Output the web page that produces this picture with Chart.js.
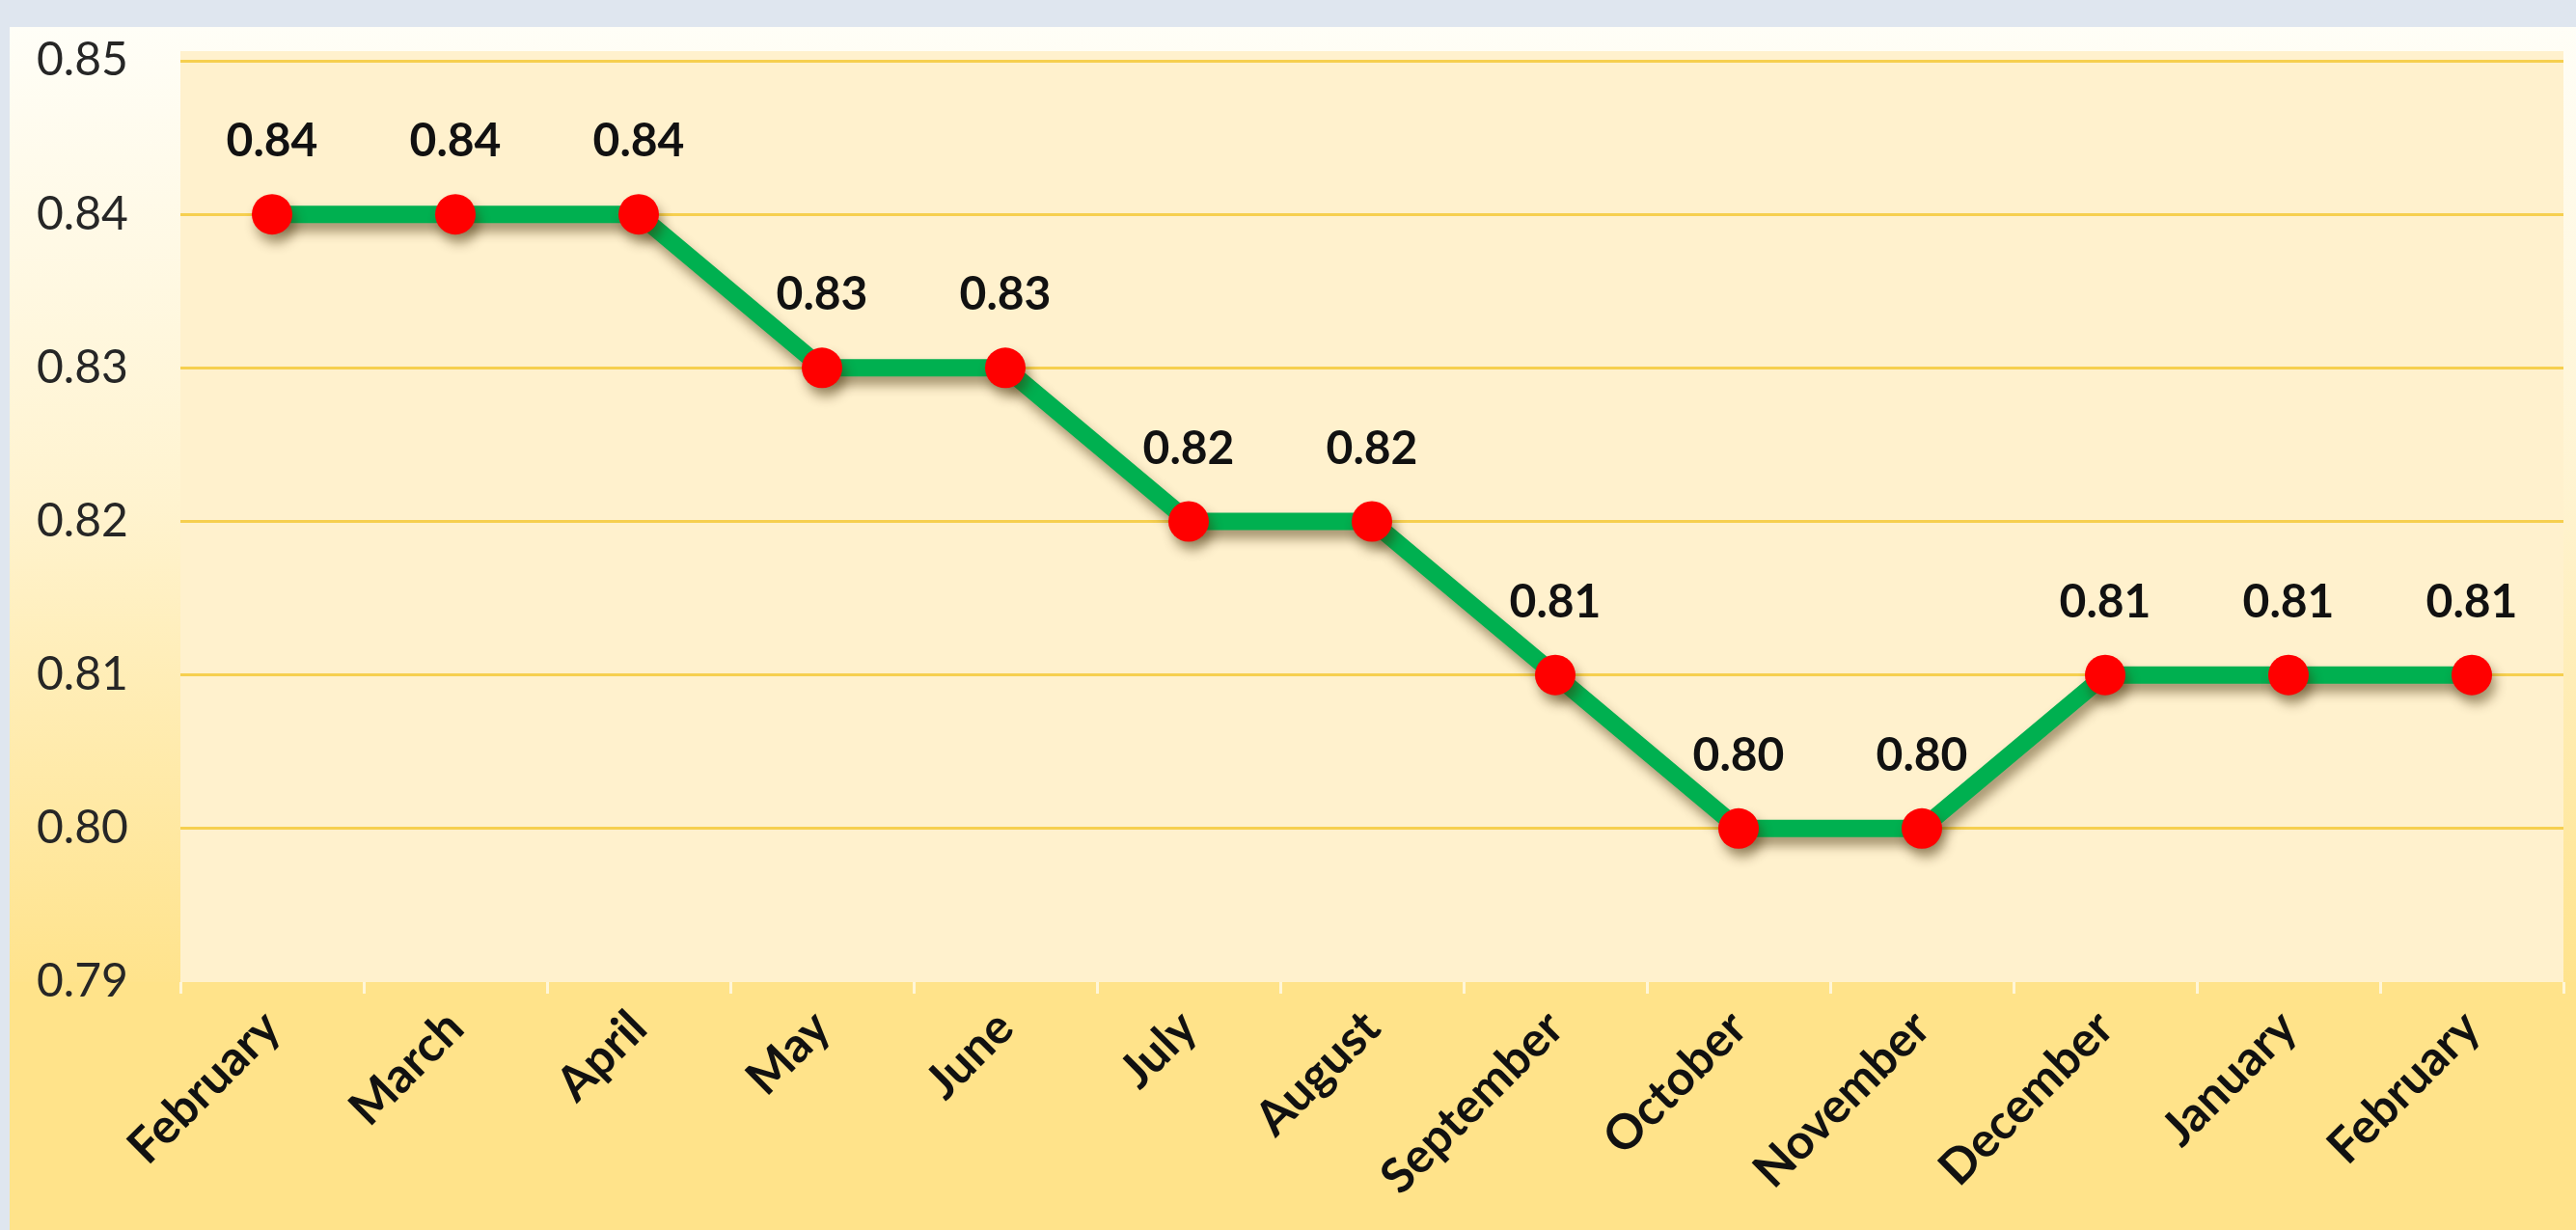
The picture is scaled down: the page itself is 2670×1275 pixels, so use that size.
<!DOCTYPE html>
<html>
<head>
<meta charset="utf-8">
<script src="https://cdn.jsdelivr.net/npm/chart.js@4"></script>
<style>
  html, body { margin: 0; padding: 0; background: #dfe6ef; }
  canvas { display: block; }
</style>
</head>
<body>
<canvas id="chart" width="2670" height="1275"></canvas>
<script>
const months = ["February", "March", "April", "May", "June", "July", "August",
  "September", "October", "November", "December", "January", "February"]
const values = [0.84, 0.84, 0.84, 0.83, 0.83, 0.82, 0.82, 0.81, 0.80, 0.80, 0.81, 0.81, 0.81]
const yMin = 0.79
const yMax = 0.85
const yStep = 0.01

// panel + plot area backgrounds
const background = {
  id: "background",
  beforeDraw(chart) {
    const { ctx, chartArea } = chart
    ctx.save()
    ctx.fillStyle = "#dfe6ef"
    ctx.fillRect(0, 0, chart.width, chart.height)
    const g = ctx.createLinearGradient(0, 28, 0, chartArea.bottom)
    g.addColorStop(0, "#fffef7")
    g.addColorStop(0.5, "#fff3cf")
    g.addColorStop(1, "#ffe38c")
    ctx.fillStyle = g
    ctx.fillRect(10, 28, chart.width - 10, chart.height - 28)
    ctx.fillStyle = "#ffe38a"
    ctx.fillRect(10, chartArea.bottom, chart.width - 10, chart.height - chartArea.bottom)
    ctx.fillStyle = "#fff1cd"
    ctx.fillRect(chartArea.left, chartArea.top - 10, chartArea.right - chartArea.left, chartArea.bottom - chartArea.top + 10)
    ctx.restore()
  }
}

const shadow = {
  id: "shadow",
  beforeDatasetDraw(chart) {
    const ctx = chart.ctx
    ctx.save()
    ctx.shadowColor = "rgba(60, 40, 0, 0.45)"
    ctx.shadowBlur = 12
    ctx.shadowOffsetX = 4
    ctx.shadowOffsetY = 9
  },
  afterDatasetDraw(chart) {
    chart.ctx.restore()
  }
}

const valueLabels = {
  id: "valueLabels",
  afterDatasetsDraw(chart) {
    const ctx = chart.ctx
    const meta = chart.getDatasetMeta(0)
    ctx.save()
    ctx.font = "bold 48px Lato"
    ctx.fillStyle = "#111111"
    ctx.textAlign = "center"
    ctx.textBaseline = "alphabetic"
    meta.data.forEach((pt, i) => {
      ctx.fillText(values[i].toFixed(2), pt.x, pt.y - 60)
    })
    ctx.restore()
  }
}

new Chart(document.getElementById("chart"), {
  type: "line",
  data: {
    labels: months,
    datasets: [
      {
        data: values,
        borderColor: "#00b050",
        borderWidth: 18,
        pointRadius: 21,
        pointHoverRadius: 21,
        pointBackgroundColor: "#ff0000",
        pointBorderWidth: 0,
        tension: 0,
        clip: false,
      },
    ],
  },
  options: {
    responsive: false,
    animation: false,
    events: [],
    layout: {
      autoPadding: false,
      padding: { left: 38, right: 13, top: 63, bottom: 0 },
    },
    plugins: {
      legend: { display: false },
      tooltip: { enabled: false },
    },
    scales: {
      x: {
        offset: true,
        afterFit(scale) { scale.height = 257 },
        border: { display: false },
        grid: {
          offset: true,
          drawOnChartArea: false,
          drawTicks: true,
          tickLength: 12,
          color: "rgba(255, 250, 235, 0.8)",
          lineWidth: 3,
        },
        ticks: {
          minRotation: 45,
          maxRotation: 45,
          padding: 6,
          color: "#111111",
          font: { family: "Lato", size: 50, weight: "bold" },
        },
      },
      y: {
        min: yMin,
        max: yMax,
        afterFit(scale) { scale.width = 149 },
        border: { display: false },
        grid: {
          drawTicks: false,
          lineWidth: 3,
          color: ctx => (ctx.tick && Math.abs(ctx.tick.value - yMin) < 1e-6 ? "rgba(0,0,0,0)" : "#f6cf4f"),
        },
        ticks: {
          stepSize: yStep,
          padding: 0,
          crossAlign: "far",
          color: "#262626",
          font: { family: "Lato", size: 48 },
          callback: v => v.toFixed(2),
        },
      },
    },
  },
  plugins: [background, shadow, valueLabels],
})
</script>
</body>
</html>
